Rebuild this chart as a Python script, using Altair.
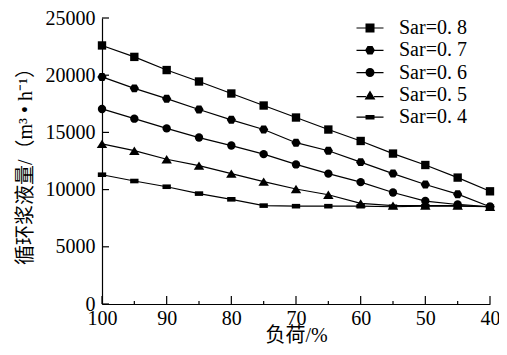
import altair as alt
import pandas as pd

loads = [100, 95, 90, 85, 80, 75, 70, 65, 60, 55, 50, 45, 40]
series = ["Sar=0. 8", "Sar=0. 7", "Sar=0. 6", "Sar=0. 5", "Sar=0. 4"]
sar08 = [22600, 21600, 20450, 19450, 18400, 17350, 16300, 15250, 14250, 13150, 12150, 11050, 9850]
sar07 = [19850, 18850, 17950, 17000, 16100, 15250, 14100, 13400, 12400, 11400, 10450, 9600, 8500]
sar06 = [17050, 16200, 15350, 14550, 13850, 13100, 12200, 11400, 10650, 9750, 9000, 8700, 8500]
sar05 = [14000, 13400, 12650, 12100, 11400, 10700, 10050, 9550, 8800, 8600, 8600, 8600, 8500]
sar04 = [11300, 10750, 10250, 9650, 9150, 8600, 8550, 8550, 8550, 8500, 8550, 8550, 8500]
values = [sar08, sar07, sar06, sar05, sar04]

y_ticks = [0, 5000, 10000, 15000, 20000, 25000]
x_major = [100, 90, 80, 70, 60, 50, 40]
x_minor = [95, 85, 75, 65, 55, 45]

rows = []
for s, vals in zip(series, values):
    for l, v in zip(loads, vals):
        rows.append({"series": s, "legend_series": s, "load": l, "value": v})
df = pd.DataFrame(rows)

W, H = 388, 286
FONT = "Liberation Serif, Noto Sans CJK SC"

point_shapes = [
    "square",
    "M-1.1,0L-0.55,-0.95L0.55,-0.95L1.1,0L0.55,0.95L-0.55,0.95Z",
    "circle",
    "M0,-1L1.25,1L-1.25,1Z",
    "M-1,-0.55H1V0.55H-1Z",
]
LINE = "M-3,-0.13H-0.9V0.13H-3ZM0.9,-0.13H3V0.13H0.9Z"
LINE_T = "M-3,0.27H-0.9V0.53H-3ZM0.9,0.27H3V0.53H0.9Z"
legend_shapes = [
    LINE + "M-1,-1H1V1H-1Z",
    LINE + "M-1.1,0L-0.55,-0.95L0.55,-0.95L1.1,0L0.55,0.95L-0.55,0.95Z",
    LINE + "M-1,0A1,1 0 1,1 1,0A1,1 0 1,1 -1,0Z",
    LINE_T + "M0,-1L1.2,1L-1.2,1Z",
    LINE + "M-1,-0.5H1V0.5H-1Z",
]

xscale = alt.Scale(domain=[100, 40], nice=False, zero=False)
yscale = alt.Scale(domain=[0, 25000], nice=False)

xenc = alt.X("load:Q", scale=xscale, axis=alt.Axis(
    values=x_major, ticks=False, grid=False, labelPadding=4, title="负荷/%",
    titleY=21, titleBaseline="top", labelFlush=False, format="d"))
yenc = alt.Y("value:Q", scale=yscale, axis=alt.Axis(
    values=y_ticks, ticks=False, grid=False, labelPadding=7,
    title="循环浆液量/（m³ • h⁻¹）", titleX=-77, titleBaseline="middle",
    titleAngle=270, labelFlush=False, format="d"))

base = alt.Chart(df)

lines = base.mark_line(color="black", strokeWidth=1.2).encode(
    x=xenc, y=yenc, detail="series:N")

points = base.mark_point(filled=True, color="black", opacity=1).encode(
    x="load:Q", y="value:Q",
    shape=alt.Shape("series:N", scale=alt.Scale(domain=series, range=point_shapes), legend=None),
    size=alt.value(70))

legend_layer = base.transform_filter("datum.value < 0").mark_point(
    filled=True, color="black").encode(
    x="load:Q", y="value:Q",
    shape=alt.Shape("legend_series:N", scale=alt.Scale(domain=series, range=legend_shapes),
                    legend=alt.Legend(title=None, orient="none", legendX=258, legendY=0,
                                      symbolSize=81, symbolFillColor="black",
                                      symbolStrokeColor="black", symbolStrokeWidth=0,
                                      labelFont=FONT, labelFontSize=20, labelColor="black",
                                      labelOffset=19, rowPadding=2.3, padding=0,
                                      symbolOpacity=1)))

ytick_df = pd.DataFrame({"value": y_ticks})
yt = alt.Chart(ytick_df).mark_rule(color="black", strokeWidth=1.2).encode(
    y="value:Q", x=alt.value(0), x2=alt.value(7))

xmaj_df = pd.DataFrame({"load": x_major})
xt = alt.Chart(xmaj_df).mark_rule(color="black", strokeWidth=1.2).encode(
    x="load:Q", y=alt.value(H), y2=alt.value(H - 8))

xmin_df = pd.DataFrame({"load": x_minor})
xtm = alt.Chart(xmin_df).mark_rule(color="black", strokeWidth=1.2).encode(
    x="load:Q", y=alt.value(H), y2=alt.value(H - 3))

chart = alt.layer(lines, points, legend_layer, yt, xt, xtm).resolve_scale(
    shape="independent"
).properties(
    width=W, height=H,
    autosize=alt.AutoSizeParams(type="none"),
    padding={"left": 94, "top": 10, "right": 9, "bottom": 43},
    background="white",
).configure_view(stroke=None).configure_axis(
    domainColor="black", domainWidth=1.2,
    labelFont=FONT, labelFontSize=20, labelColor="black",
    titleFont=FONT, titleFontSize=20, titleColor="black", titleFontWeight="normal",
)

chart.save("out.html", embed_options={"renderer": "svg", "actions": False})
